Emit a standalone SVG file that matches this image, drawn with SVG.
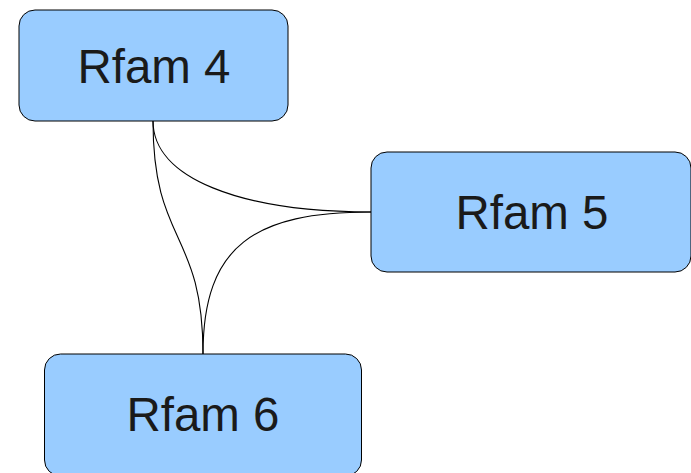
<svg xmlns="http://www.w3.org/2000/svg" width="691" height="473" viewBox="0 0 691 473">
<style>
.node rect{fill:#99ccff;stroke:#000;stroke-width:1}
.node text{font-family:"Liberation Sans",Arial,sans-serif;font-size:47.5px;fill:#1a1a1a;text-anchor:middle}
.edges path{fill:none;stroke:#000;stroke-width:1.1}
</style>
<rect width="691" height="473" fill="#fff"/>
<g class="edges" id="connectors">
<path d="M153,121 C153,178 240,212 371,212"/>
<path d="M153,121 C153,245 203,230 203,354"/>
<path d="M371,212 C255,212 203,245 203,354"/>
</g>
<g class="node" id="rfam4"><rect x="19" y="10" width="269" height="111" rx="16"/><text x="154" y="83">Rfam 4</text></g>
<g class="node" id="rfam5"><rect x="371" y="152" width="320" height="120" rx="16"/><text x="532" y="229">Rfam 5</text></g>
<g class="node" id="rfam6"><rect x="44.500" y="354" width="317" height="122" rx="16"/><text x="203" y="431">Rfam 6</text></g>
</svg>
